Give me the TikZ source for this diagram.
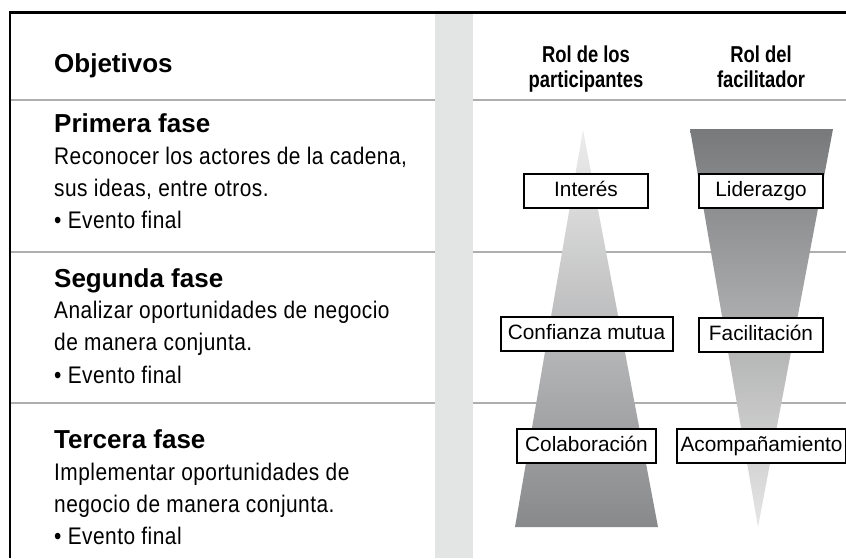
\documentclass[tikz,border=0pt]{standalone}
\usepackage{fontspec}
\setmainfont{Liberation Sans}
\newfontfamily\hdrfont[FakeStretch=0.8]{Liberation Sans}
\newfontfamily\bodyfont[FakeStretch=0.87,LetterSpace=2]{Liberation Sans}
\definecolor{barcol}{HTML}{E3E4E4}
\definecolor{sepcol}{HTML}{AEAEAE}
\definecolor{trilight}{HTML}{EDEDED}
\definecolor{tridark}{HTML}{88898B}
\definecolor{tridarkR}{HTML}{78797B}
\definecolor{trilightR}{HTML}{E6E6E6}
\tikzset{
  sepline/.style={draw=sepcol, line width=2pt},
  border/.style={draw=black, line width=2.5pt, line join=miter},
  objtitle/.style={anchor=base west, inner sep=0, font=\bfseries\fontsize{26}{30}\selectfont},
  phasehead/.style={anchor=base west, inner sep=0, font=\bfseries\fontsize{26}{30}\selectfont},
  phasebody/.style={anchor=base west, inner sep=0, font=\bodyfont\fontsize{24}{28}\selectfont},
  colhead/.style={anchor=base, inner sep=0, font=\hdrfont\bfseries\fontsize{23}{27}\selectfont},
  rolebox/.style={draw=black, line width=2pt, fill=white, inner sep=0, minimum height=34pt,
    text height=15.5pt, text depth=4.5pt, font=\fontsize{20.8}{25}\selectfont}
}
\begin{document}
\begin{tikzpicture}[x=1pt,y=-1pt]
\useasboundingbox (0,0) rectangle (846,558);
\fill[white] (0,0) rectangle (846,558);
% grey vertical band
\fill[barcol] (435,14) rectangle (473,558);
% separator lines
\draw[sepline] (10,100) -- (435,100);
\draw[sepline] (473,100) -- (846,100);
\draw[sepline] (10,251.5) -- (435,251.5);
\draw[sepline] (473,251.5) -- (846,251.5);
\draw[sepline] (10,403) -- (435,403);
\draw[sepline] (473,403) -- (846,403);
% outer border
\draw[border] (846,12.5) -- (10,12.5) -- (10,558);
% triangles
\shade[top color=trilight, bottom color=tridark] (583,130) -- (658,527) -- (515,527) -- cycle;
\shade[top color=tridarkR, bottom color=trilightR] (690,129) -- (833,129) -- (758,527) -- cycle;
% left texts
\node[objtitle] (obj) at (54,72) {Objetivos};
\node[phasehead] (f1) at (54,132) {Primera fase};
\node[phasebody] (f1a) at (54,164) {Reconocer los actores de la cadena,};
\node[phasebody] (f1b) at (54,196) {sus ideas, entre otros.};
\node[phasebody] (f1c) at (54,228) {• Evento final};
\node[phasehead] (f2) at (54,287) {Segunda fase};
\node[phasebody] (f2a) at (54,318) {Analizar oportunidades de negocio};
\node[phasebody] (f2b) at (54,350) {de manera conjunta.};
\node[phasebody] (f2c) at (54,383) {• Evento final};
\node[phasehead] (f3) at (54,448) {Tercera fase};
\node[phasebody] (f3a) at (54,480) {Implementar oportunidades de};
\node[phasebody] (f3b) at (54,512) {negocio de manera conjunta.};
\node[phasebody] (f3c) at (54,544) {• Evento final};
% column headers
\node[colhead] (hp1) at (586,62) {Rol de los};
\node[colhead] (hp2) at (586,87) {participantes};
\node[colhead] (hf1) at (761,62) {Rol del};
\node[colhead] (hf2) at (761,87) {facilitador};
% role boxes
\node[rolebox, minimum width=124pt] (interes) at (586,191) {Interés};
\node[rolebox, minimum width=124pt] (liderazgo) at (761,191) {Liderazgo};
\node[rolebox, minimum width=172pt] (confianza) at (586.5,334) {Confianza mutua};
\node[rolebox, minimum width=124pt] (facilitacion) at (761,334.5) {Facilitación};
\node[rolebox, minimum width=139pt] (colaboracion) at (586.5,446) {Colaboración};
\node[rolebox, minimum width=169pt] (acompanamiento) at (761.5,445.5) {Acompañamiento};
\end{tikzpicture}
\end{document}
